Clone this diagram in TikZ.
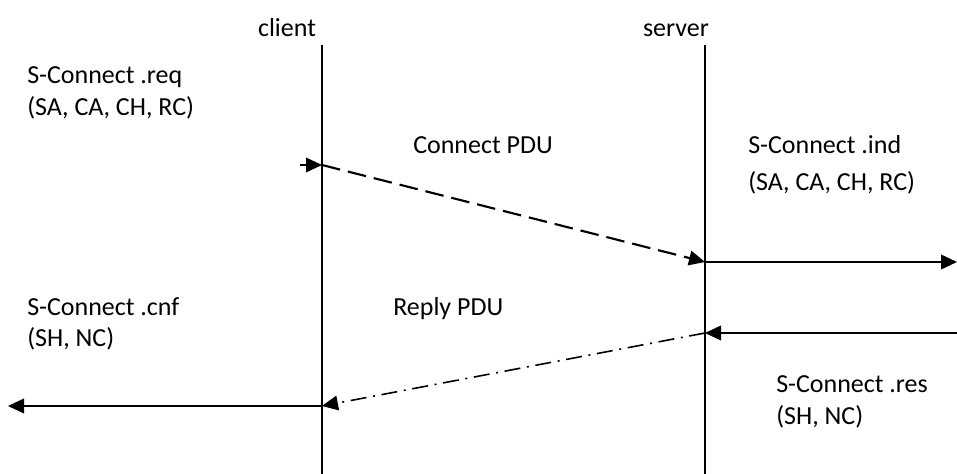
\documentclass[tikz,border=0pt]{standalone}
\usepackage{fontspec}
\setmainfont{Carlito}
\usetikzlibrary{arrows.meta}
\begin{document}
\begin{tikzpicture}[x=0.75pt,y=-0.75pt,
  txt/.style={font=\fontsize{19.5pt}{23pt}\selectfont, inner sep=0pt, anchor=west, text height=14pt, text depth=4.5pt},
  lifeline/.style={line width=1.2pt},
  tipstyle/.style={-{Triangle[length=12pt,width=11pt]}},
  msg/.style={line width=1.2pt, tipstyle},
  dashmsg/.style={line width=1.6pt, dash pattern=on 14pt off 6pt, tipstyle},
  dotmsg/.style={line width=1.2pt, dash pattern=on 12pt off 5pt on 1.5pt off 5pt, tipstyle}]
\useasboundingbox (0,0) rectangle (957,474);
% lifelines
\coordinate (ctop) at (322,45);
\coordinate (cbot) at (322,474);
\coordinate (stop) at (705,45);
\coordinate (sbot) at (705,474);
\draw[lifeline] (ctop) -- (cbot);
\draw[lifeline] (stop) -- (sbot);
\node[txt, anchor=center] (client) at (287,30) {client};
\node[txt, anchor=center] (server) at (676,30) {server};
% points
\coordinate (reqin) at (300,165);
\coordinate (c1) at (322,165);
\coordinate (s1) at (705,262);
\coordinate (indout) at (957,262);
\coordinate (resin) at (957,333);
\coordinate (s2) at (705,333);
\coordinate (c2) at (322,406);
\coordinate (cnfout) at (8,406);
% arrows
\draw[msg] (reqin) -- (c1);
\draw[dashmsg] (c1) -- (s1);
\draw[msg] (s1) -- (indout);
\draw[msg] (resin) -- (s2);
\draw[dotmsg] (s2) -- (c2);
\draw[msg] (c2) -- (cnfout);
% labels
\node[txt] (req1) at (27,77) {S-Connect .req};
\node[txt] (req2) at (27,109) {(SA, CA, CH, RC)};
\node[txt] (cpdu) at (413,147) {Connect PDU};
\node[txt] (ind1) at (748,147) {S-Connect .ind};
\node[txt] (ind2) at (748,184) {(SA, CA, CH, RC)};
\node[txt] (cnf1) at (27,309) {S-Connect .cnf};
\node[txt] (cnf2) at (27,340) {(SH, NC)};
\node[txt] (rpdu) at (393,309) {Reply PDU};
\node[txt] (res1) at (776,386) {S-Connect .res};
\node[txt] (res2) at (776,418) {(SH, NC)};
\end{tikzpicture}
\end{document}
